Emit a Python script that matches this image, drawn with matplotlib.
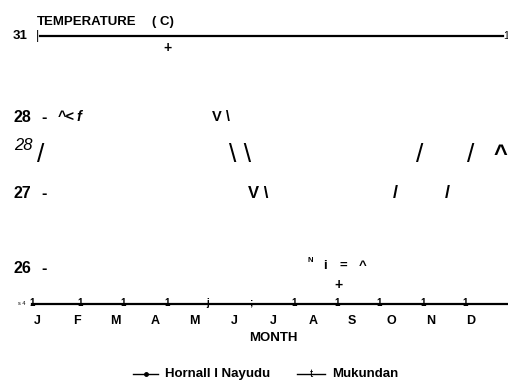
import matplotlib.pyplot as plt

plt.rcParams['font.family'] = ['Liberation Sans', 'DejaVu Sans']

# month axis (x in month index, J = 0)
months = ['J', 'F', 'M', 'A', 'M', 'J', 'J', 'A', 'S', 'O', 'N', 'D']
tick_chars = ['1', '1', '1', '1', 'j', ';', '1', '1', '1', '1', '1']
tick_pos = [-0.13, 1.09, 2.18, 3.30, 4.32, 5.43, 6.52, 7.61, 8.68, 9.80, 10.86]

# temperature labels on the left
temp_labels = ['28', '27', '26']
temp_values = [27.97, 26.98, 26.0]

# scanned fragments of the two curves: (text, month, temperature, size, style)
frag_text = ['+', '^<', 'f', 'V \\', '/', '\\ \\', '/', '/', '^', 'V \\', '/', '/',
             'N', 'i', '=', '^', '+']
frag_month = [3.30, 0.74, 1.07, 4.66, 0.10, 5.15, 9.70, 11.01, 11.75, 5.61, 9.09, 10.41,
              6.93, 7.31, 7.77, 8.25, 7.64]
frag_temp = [28.88, 27.97, 27.97, 27.97, 27.48, 27.48, 27.48, 27.48, 27.49, 26.98, 26.97, 26.97,
             26.10, 26.03, 26.03, 26.03, 25.78]
frag_size = [10, 10.5, 10.5, 10.5, 19, 19, 19, 19, 17, 12, 13, 13, 5.5, 9.5, 9.5, 9.5, 10]
frag_bold = [True, True, True, True, False, False, False, False, True, True, True, True,
             True, True, True, True, True]
frag_italic = [False, False, True, False, False, False, False, False, False, False, False, False,
               False, False, False, False, False]

top_temp = 29.03
bottom_temp = 25.53

fig = plt.figure(figsize=(5.08, 3.81), dpi=100)
ax = fig.add_axes([0, 0, 1, 1])
ax.set_xlim(-0.94, 11.95)
ax.set_ylim(24.523, 29.503)
ax.axis('off')

# top frame line
ax.plot([0.08, 11.83], [top_temp, top_temp], color='black', lw=1.6)
ax.text(-0.61, top_temp, '31', fontsize=9.5, fontweight='bold', ha='left', va='center')
ax.text(0.0, top_temp, '|', fontsize=9, ha='center', va='center')
ax.text(11.90, top_temp, '1', fontsize=7.5, ha='center', va='center')
ax.text(0.0, 29.22, 'TEMPERATURE', fontsize=9.5, fontweight='bold',
        ha='left', va='center')
ax.text(2.92, 29.22, '( C)', fontsize=9.5, fontweight='bold', ha='left', va='center')

for lab, t in zip(temp_labels, temp_values):
    ax.text(-0.59, t, lab, fontsize=11.5, fontweight='bold', ha='left', va='center')
    ax.text(0.19, t, '-', fontsize=11.5, fontweight='bold', ha='center', va='center')
ax.text(-0.58, 27.60, '28', fontsize=12, style='italic', ha='left', va='center')

for s, m, t, fs, b, it in zip(frag_text, frag_month, frag_temp, frag_size,
                             frag_bold, frag_italic):
    ax.text(m, t, s, fontsize=fs, fontweight='bold' if b else 'normal',
            style='italic' if it else 'normal', ha='center', va='center')

# bottom month axis
ax.plot([-0.13, 11.95], [bottom_temp, bottom_temp], color='black', lw=1.6)
ax.text(-0.38, bottom_temp, 's 4', fontsize=4, ha='center', va='center')
for c, m in zip(tick_chars, tick_pos):
    ax.text(m, bottom_temp + 0.015, c, fontsize=7, fontweight='bold',
            ha='center', va='center')
for i, lab in enumerate(months):
    ax.text(i, 25.31, lab, fontsize=9, fontweight='bold', ha='center', va='center')
ax.text(5.99, 25.085, 'MONTH', fontsize=9.5, fontweight='bold', ha='center', va='center')

# legend
leg_t = 24.614
ax.plot([2.44, 3.07], [leg_t, leg_t], color='black', lw=1)
ax.plot([2.76], [leg_t], 'ko', markersize=2.5)
ax.text(3.25, leg_t, 'Hornall I Nayudu', fontsize=9.5, fontweight='bold',
        ha='left', va='center')
ax.plot([6.60, 7.31], [leg_t, leg_t], color='black', lw=1)
ax.text(6.95, leg_t, 't', fontsize=8, ha='center', va='center')
ax.text(7.49, leg_t, 'Mukundan', fontsize=9.5, fontweight='bold', ha='left', va='center')

fig.savefig('out.png', dpi=100, facecolor='white')
